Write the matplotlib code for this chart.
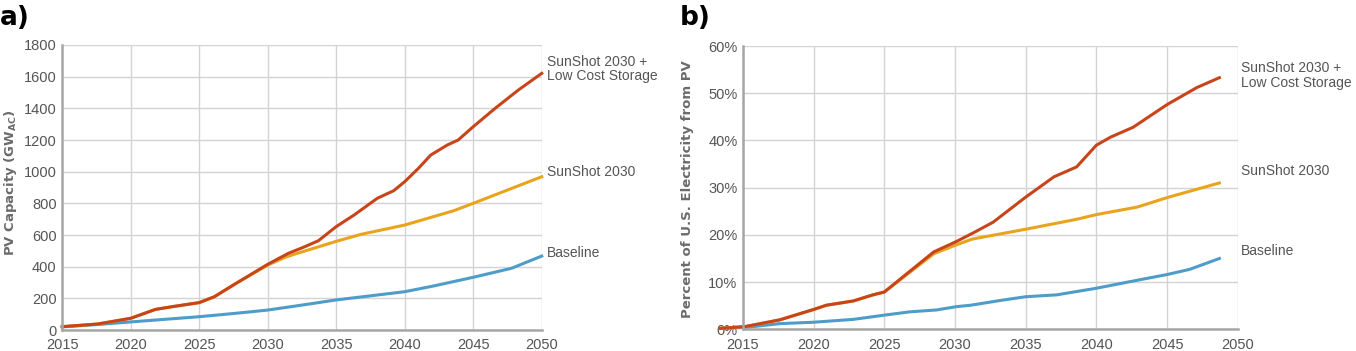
import matplotlib
matplotlib.use('Agg')
import matplotlib.pyplot as plt
from matplotlib.ticker import FuncFormatter

plt.rcParams['font.family'] = ['Liberation Sans', 'DejaVu Sans']

# panel a) PV capacity (GW_AC)
years_a_red = [2015, 2017.6, 2020, 2021.8, 2023, 2025, 2026.1, 2027.6, 2030,
               2031.5, 2032.7, 2033.7, 2035, 2036.3, 2038, 2039.2, 2040, 2041,
               2041.9, 2043.1, 2043.9, 2045, 2046.6, 2048.3, 2050]
red_a = [21, 38, 74, 130, 147, 173, 210, 290, 415,
         484, 526, 564, 653, 726, 832, 880, 937, 1021,
         1105, 1168, 1200, 1284, 1400, 1516, 1621]

years_a_yel = [2015, 2017.6, 2020, 2021.8, 2023, 2025, 2026.1, 2027.6, 2030,
               2031.3, 2032, 2035, 2036.8, 2040, 2042.1, 2043.6, 2045, 2047.5, 2050]
yel_a = [21, 38, 74, 130, 147, 173, 210, 290, 410,
         460, 480, 560, 604, 663, 716, 754, 800, 884, 968]

years_a_blue = [2015, 2017.6, 2020, 2025, 2027.6, 2030, 2032.7, 2035, 2038,
                2040, 2042.1, 2045, 2047.8, 2050]
blue_a = [20, 35, 51, 84, 105, 126, 160, 190, 221,
          242, 278, 333, 390, 467]

# panel b) share of US electricity from PV (%)
years_b_red = [2013.4, 2015.2, 2017.6, 2020, 2020.9, 2022.8, 2024.2, 2025, 2026.6,
               2028.5, 2030.1, 2031.4, 2032.7, 2035, 2037, 2038.6, 2040, 2041,
               2042.6, 2045, 2047.1, 2048.7]
red_b = [0.2, 0.6, 2.0, 4.2, 5.1, 6.0, 7.3, 7.9, 11.8,
         16.4, 18.6, 20.6, 22.7, 28.0, 32.3, 34.4, 39.0, 40.7,
         42.8, 47.6, 51.2, 53.3]

years_b_yel = [2013.4, 2015.2, 2017.6, 2020, 2020.9, 2022.8, 2024.2, 2025, 2026.6,
               2028.5, 2030.1, 2031.2, 2035, 2038.6, 2040, 2042.9, 2045, 2048.7]
yel_b = [0.2, 0.6, 2.0, 4.2, 5.1, 6.0, 7.3, 7.9, 11.6,
         16.0, 17.9, 19.1, 21.2, 23.3, 24.3, 25.9, 27.9, 31.0]

years_b_blue = [2013.4, 2015.2, 2017.6, 2020, 2022.8, 2025, 2026.8, 2028.7, 2030.1,
                2031.1, 2033.4, 2035, 2037.2, 2040, 2042.9, 2045, 2046.6, 2048.7]
blue_b = [0.2, 0.4, 1.2, 1.5, 2.1, 3.0, 3.7, 4.1, 4.8,
          5.1, 6.2, 6.9, 7.3, 8.7, 10.4, 11.6, 12.7, 15.0]

RED = '#c8451b'
YEL = '#e8a41c'
BLUE = '#4d9dc8'
GRID = '#d3d3d3'
SPINE = '#a6a6a6'
TXT = '#555555'

fig = plt.figure(figsize=(13.56, 3.51), dpi=100)
ax1 = fig.add_axes([0.0459, 0.0598, 0.3536, 0.812])
ax2 = fig.add_axes([0.5479, 0.0618, 0.3649, 0.807])


def style(ax):
    ax.set_xlim(2015, 2050)
    ax.set_xticks(range(2015, 2051, 5))
    ax.grid(True, color=GRID, linewidth=1.0)
    ax.set_axisbelow(True)
    for s in ['top', 'right']:
        ax.spines[s].set_visible(False)
    for s in ['left', 'bottom']:
        ax.spines[s].set_color(SPINE)
        ax.spines[s].set_linewidth(1.8)
    ax.tick_params(length=0, labelsize=10.5, colors=TXT)
    ax.tick_params(axis='x', pad=6)
    ax.tick_params(axis='y', pad=4)


style(ax1)
ax1.set_ylim(0, 1800)
ax1.set_yticks(range(0, 1801, 200))
ax1.plot(years_a_blue, blue_a, color=BLUE, lw=2.2, clip_on=False)
ax1.plot(years_a_yel, yel_a, color=YEL, lw=2.2, clip_on=False)
ax1.plot(years_a_red, red_a, color=RED, lw=2.2, clip_on=False)
ax1.set_ylabel('PV Capacity (GW$_{\\mathregular{AC}}$)', fontsize=9.5,
               fontweight='bold', color='#6b6b6b', family='DejaVu Sans')
ax1.yaxis.set_label_coords(-0.09, 0.516)
ax1.text(2050.4, 1648, 'SunShot 2030 +\nLow Cost Storage', fontsize=10,
         color=TXT, va='center', linespacing=1.0)
ax1.text(2050.4, 998, 'SunShot 2030', fontsize=10, color=TXT, va='center')
ax1.text(2050.4, 486, 'Baseline', fontsize=10, color=TXT, va='center')

style(ax2)
ax2.set_ylim(0, 60)
ax2.set_yticks(range(0, 61, 10))
ax2.yaxis.set_major_formatter(FuncFormatter(lambda v, p: '%d%%' % v))
ax2.plot(years_b_blue, blue_b, color=BLUE, lw=2.2, clip_on=False)
ax2.plot(years_b_yel, yel_b, color=YEL, lw=2.2, clip_on=False)
ax2.plot(years_b_red, red_b, color=RED, lw=2.2, clip_on=False)
ax2.set_ylabel('Percent of U.S. Electricity from PV', fontsize=9.5,
               fontweight='bold', color='#6b6b6b', family='DejaVu Sans')
ax2.yaxis.set_label_coords(-0.098, 0.495)
ax2.text(2050.2, 53.7, 'SunShot 2030 +\nLow Cost Storage', fontsize=10,
         color=TXT, va='center', linespacing=1.1)
ax2.text(2050.2, 33.5, 'SunShot 2030', fontsize=10, color=TXT, va='center')
ax2.text(2050.2, 16.6, 'Baseline', fontsize=10, color=TXT, va='center')

fig.text(0.0, 0.985, 'a)', fontsize=19, fontweight='bold', va='top', ha='left',
         family='DejaVu Sans')
fig.text(0.5015, 0.985, 'b)', fontsize=19, fontweight='bold', va='top', ha='left',
         family='DejaVu Sans')

fig.savefig('out.png', dpi=100)
